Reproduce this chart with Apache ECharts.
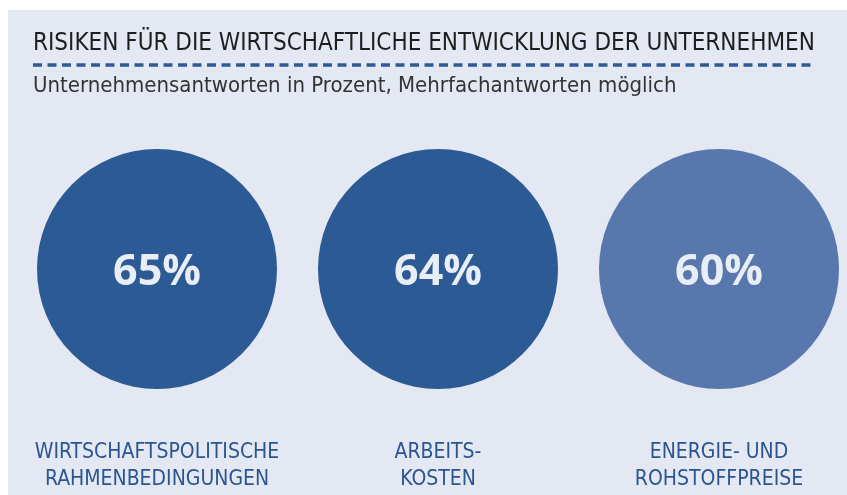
<!DOCTYPE html>
<html>
<head>
    <meta charset="utf-8">
    <title>Risiken</title>
    <script src="https://cdn.jsdelivr.net/npm/echarts@6/dist/echarts.min.js"></script>
    <style>
        html, body { margin: 0; padding: 0; background: #fff; }
    </style>
</head>
<body>
<div id="main" style="width: 847px;height:495px;"></div>
<script type="text/javascript">

    // Daten
    var categories = ['WIRTSCHAFTSPOLITISCHE\nRAHMENBEDINGUNGEN', 'ARBEITS-\nKOSTEN', 'ENERGIE- UND\nROHSTOFFPREISE'];
    var values = [65, 64, 60];
    var colors = ['#2c5a94', '#2c5a94', '#5877ad'];

    var narrow = '"Liberation Sans Narrow", "DejaVu Sans Condensed", "Roboto Condensed", "Open Sans", sans-serif';

    var myChart = echarts.init(document.getElementById('main'));

    var points = [];
    for (var i = 0; i < values.length; i++) {
        points.push([i, 0, values[i]]);
    }

    var option = {
        backgroundColor: '#ffffff',
        animation: false,
        graphic: [
            // Hintergrundfläche
            {type: 'rect', z: -10, shape: {x: 8, y: 10, width: 847, height: 495},
                style: {fill: '#e3e8f3'}},
            {type: 'text', left: 33, top: 32,
                style: {text: 'RISIKEN FÜR DIE WIRTSCHAFTLICHE ENTWICKLUNG DER UNTERNEHMEN',
                    font: '24px ' + narrow, fill: '#1e1e1e'}},
            {type: 'line', shape: {x1: 33, y1: 65, x2: 812, y2: 65},
                style: {stroke: '#2d5b94', lineWidth: 3.5, lineDash: [9, 5.5]}},
            {type: 'text', left: 33, top: 75,
                style: {text: 'Unternehmensantworten in Prozent, Mehrfachantworten möglich',
                    font: '22px ' + narrow, fill: '#333333'}}
        ],
        grid: {left: 157, right: 128, top: 149, bottom: 106},
        xAxis: {
            type: 'category',
            boundaryGap: false,
            data: categories,
            axisLine: {show: false},
            axisTick: {show: false},
            axisLabel: {
                interval: 0,
                margin: 50,
                fontSize: 21,
                lineHeight: 27,
                fontFamily: narrow,
                color: '#2b5590'
            }
        },
        yAxis: {
            type: 'value',
            min: -1,
            max: 1,
            show: false
        },
        series: [{
            type: 'scatter',
            data: points,
            symbolSize: 240,
            itemStyle: {
                opacity: 1,
                color: function (p) { return colors[p.dataIndex]; }
            },
            label: {
                show: true,
                position: 'inside',
                offset: [0, 4],
                formatter: function (p) { return p.value[2] + '%'; },
                fontSize: 43,
                fontWeight: 'bold',
                fontFamily: '"Open Sans", sans-serif',
                color: '#e8edf6'
            },
            emphasis: {disabled: true}
        }]
    };

    myChart.setOption(option);
</script>
</body>
</html>
